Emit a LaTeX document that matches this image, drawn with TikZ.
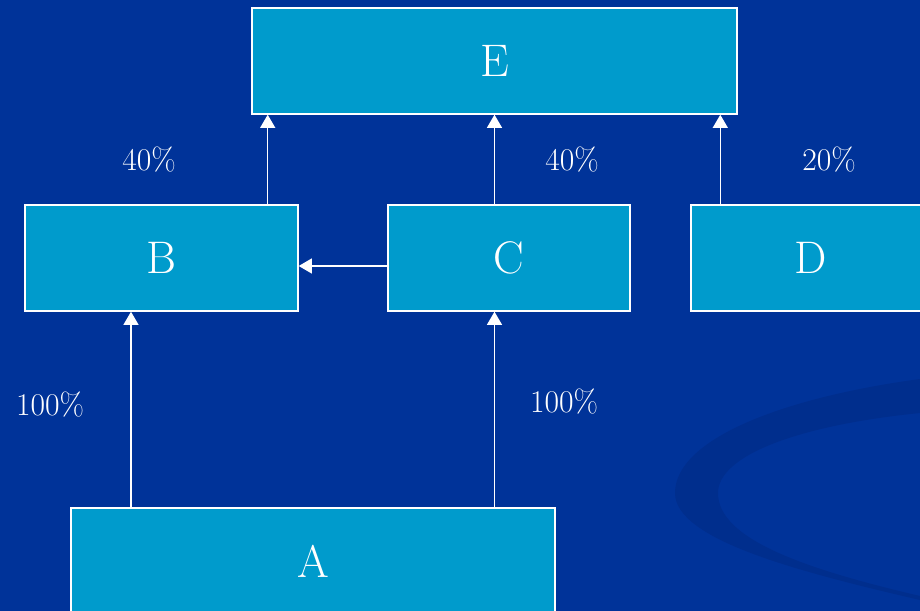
\documentclass[tikz,border=0pt]{standalone}
\usepackage{tikz}
\usetikzlibrary{arrows.meta, positioning}
\definecolor{slide_bg}{RGB}{0, 51, 153}
\definecolor{slide_swoosh}{RGB}{0, 46, 141}
\definecolor{box_color}{RGB}{0, 155, 204}

\tikzset{
  entity/.style={draw=white, line width=0.8pt, fill=box_color, text=white,
    minimum height=2.12cm, inner sep=0pt, font=\fontsize{26}{30}\selectfont},
  share/.style={text=white, font=\fontsize{18}{21}\selectfont},
  link/.style={draw=white, line width=0.9pt, -{Triangle[width=8.5pt, length=7.5pt]}}
}

\begin{document}
\begin{tikzpicture}[x=0.2mm, y=-0.2mm]

  % 1. Fondo
  \useasboundingbox (0,0) rectangle (920,611);
  \clip (0,0) rectangle (920,611);
  \fill[slide_bg] (0,0) rectangle (920,611);
  \fill[slide_swoosh] (920,379) .. controls (780,398) and (675,440) .. (675,493)
    .. controls (675,540) and (800,572) .. (920,600) -- (920,596)
    .. controls (800,568) and (718,538) .. (718,493)
    .. controls (718,455) and (800,425) .. (920,413) -- cycle;

  % 2. Cajas
  \node[entity, minimum width=9.7cm]  (E) at (494.5,61) {E};
  \node[entity, minimum width=5.46cm] (B) at (161.5,258) {B};
  \node[entity, minimum width=4.84cm] (C) at (509,258) {C};
  \node[entity, minimum width=4.8cm]  (D) at (811,258) {D};
  \node[entity, minimum width=9.68cm] (A) at (313,561) {A};

  % 3. Flechas
  \draw[link] ([xshift=-0.62cm]B.north east) -- ([xshift=-0.62cm]B.north east |- E.south);
  \draw[link] (C.north -| E.south) -- (E.south);
  \draw[link] ([xshift=0.6cm]D.north west) -- ([xshift=0.6cm]D.north west |- E.south);
  \draw[link] ([yshift=-0.16cm]C.west) -- ([yshift=-0.16cm]C.west -| B.east);
  \draw[link] ([xshift=-0.61cm]B.south |- A.north) -- ([xshift=-0.61cm]B.south);
  \draw[link] (E.south |- A.north) -- (E.south |- C.south);

  % 4. Porcentajes
  \node[share] (pBE) at (149,160) {40\%};
  \node[share] (pCE) at (572,160) {40\%};
  \node[share] (pDE) at (829,160) {20\%};
  \node[share] (pAB) at (50,405)  {100\%};
  \node[share] (pAC) at (564,402) {100\%};

\end{tikzpicture}
\end{document}
